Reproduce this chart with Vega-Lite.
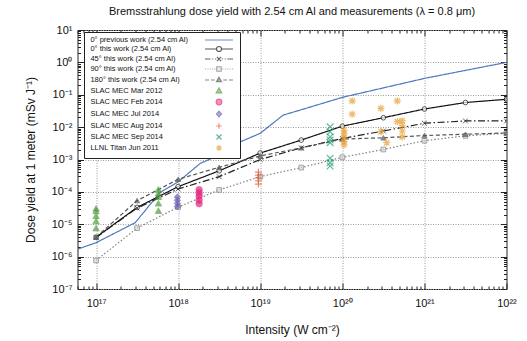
{
  "$schema": "https://vega.github.io/schema/vega-lite/v6.json",
  "width": 429,
  "height": 259,
  "autosize": "none",
  "padding": {"left": 77.5, "top": 30, "right": 20.5, "bottom": 52},
  "config": {"font": "Liberation Sans", "view": {"stroke": "#222222", "strokeWidth": 1}},
  "title": {"text": "Bremsstrahlung dose yield with 2.54 cm Al and measurements (λ = 0.8 μm)", "fontSize": 11, "fontWeight": "normal", "font": "Liberation Sans", "color": "#111111", "offset": 7, "anchor": "middle"},
  "data": {"values": [
    {"series": "0° previous work (2.54 cm Al)", "x": 5.94e16, "y": 1.70e-6},
    {"series": "0° previous work (2.54 cm Al)", "x": 1e17, "y": 2.69e-6},
    {"series": "0° previous work (2.54 cm Al)", "x": 3.0e17, "y": 1.12e-5},
    {"series": "0° previous work (2.54 cm Al)", "x": 6.0e17, "y": 9.5e-5},
    {"series": "0° previous work (2.54 cm Al)", "x": 1e18, "y": 2.04e-4},
    {"series": "0° previous work (2.54 cm Al)", "x": 1.86e18, "y": 7.6e-4},
    {"series": "0° previous work (2.54 cm Al)", "x": 2.6e18, "y": 1.1e-3},
    {"series": "0° previous work (2.54 cm Al)", "x": 4.7e18, "y": 2.82e-3},
    {"series": "0° previous work (2.54 cm Al)", "x": 1e19, "y": 6.46e-3},
    {"series": "0° previous work (2.54 cm Al)", "x": 1.6e19, "y": 1.66e-2},
    {"series": "0° previous work (2.54 cm Al)", "x": 1.9e19, "y": 2.35e-2},
    {"series": "0° previous work (2.54 cm Al)", "x": 3.1e19, "y": 3.39e-2},
    {"series": "0° previous work (2.54 cm Al)", "x": 1e20, "y": 8.3e-2},
    {"series": "0° previous work (2.54 cm Al)", "x": 1e21, "y": 0.32},
    {"series": "0° previous work (2.54 cm Al)", "x": 1e22, "y": 1.0},
    {"series": "0° this work (2.54 cm Al)", "x": 1e17, "y": 3.98e-6},
    {"series": "0° this work (2.54 cm Al)", "x": 3.16e17, "y": 3.31e-5},
    {"series": "0° this work (2.54 cm Al)", "x": 1e18, "y": 1.45e-4},
    {"series": "0° this work (2.54 cm Al)", "x": 3.16e18, "y": 4.47e-4},
    {"series": "0° this work (2.54 cm Al)", "x": 1e19, "y": 1.58e-3},
    {"series": "0° this work (2.54 cm Al)", "x": 3.16e19, "y": 3.98e-3},
    {"series": "0° this work (2.54 cm Al)", "x": 1e20, "y": 1.07e-2},
    {"series": "0° this work (2.54 cm Al)", "x": 3.16e20, "y": 1.95e-2},
    {"series": "0° this work (2.54 cm Al)", "x": 1e21, "y": 3.63e-2},
    {"series": "0° this work (2.54 cm Al)", "x": 3.16e21, "y": 5.75e-2},
    {"series": "0° this work (2.54 cm Al)", "x": 1e22, "y": 7.24e-2},
    {"series": "45° this work (2.54 cm Al)", "x": 1e17, "y": 3.9e-6},
    {"series": "45° this work (2.54 cm Al)", "x": 3.16e17, "y": 3.16e-5},
    {"series": "45° this work (2.54 cm Al)", "x": 1e18, "y": 1.23e-4},
    {"series": "45° this work (2.54 cm Al)", "x": 3.16e18, "y": 2.95e-4},
    {"series": "45° this work (2.54 cm Al)", "x": 1e19, "y": 1.0e-3},
    {"series": "45° this work (2.54 cm Al)", "x": 3.16e19, "y": 2.29e-3},
    {"series": "45° this work (2.54 cm Al)", "x": 1e20, "y": 4.47e-3},
    {"series": "45° this work (2.54 cm Al)", "x": 3.16e20, "y": 7.59e-3},
    {"series": "45° this work (2.54 cm Al)", "x": 1e21, "y": 1.32e-2},
    {"series": "45° this work (2.54 cm Al)", "x": 3.16e21, "y": 1.55e-2},
    {"series": "45° this work (2.54 cm Al)", "x": 1e22, "y": 1.55e-2},
    {"series": "90° this work (2.54 cm Al)", "x": 1e17, "y": 7.6e-7},
    {"series": "90° this work (2.54 cm Al)", "x": 3.16e17, "y": 7.6e-6},
    {"series": "90° this work (2.54 cm Al)", "x": 1e18, "y": 3.39e-5},
    {"series": "90° this work (2.54 cm Al)", "x": 3.16e18, "y": 1.15e-4},
    {"series": "90° this work (2.54 cm Al)", "x": 1e19, "y": 2.95e-4},
    {"series": "90° this work (2.54 cm Al)", "x": 3.16e19, "y": 5.62e-4},
    {"series": "90° this work (2.54 cm Al)", "x": 1e20, "y": 1.17e-3},
    {"series": "90° this work (2.54 cm Al)", "x": 3.16e20, "y": 2.04e-3},
    {"series": "90° this work (2.54 cm Al)", "x": 1e21, "y": 3.8e-3},
    {"series": "90° this work (2.54 cm Al)", "x": 3.16e21, "y": 5.37e-3},
    {"series": "90° this work (2.54 cm Al)", "x": 1e22, "y": 6.46e-3},
    {"series": "180° this work (2.54 cm Al)", "x": 1e17, "y": 4.0e-6},
    {"series": "180° this work (2.54 cm Al)", "x": 3.16e17, "y": 5.37e-5},
    {"series": "180° this work (2.54 cm Al)", "x": 1e18, "y": 2.45e-4},
    {"series": "180° this work (2.54 cm Al)", "x": 3.16e18, "y": 5.75e-4},
    {"series": "180° this work (2.54 cm Al)", "x": 1e19, "y": 1.29e-3},
    {"series": "180° this work (2.54 cm Al)", "x": 3.16e19, "y": 2.29e-3},
    {"series": "180° this work (2.54 cm Al)", "x": 1e20, "y": 4.27e-3},
    {"series": "180° this work (2.54 cm Al)", "x": 3.16e20, "y": 4.68e-3},
    {"series": "180° this work (2.54 cm Al)", "x": 1e21, "y": 5.5e-3},
    {"series": "180° this work (2.54 cm Al)", "x": 3.16e21, "y": 6.03e-3},
    {"series": "180° this work (2.54 cm Al)", "x": 1e22, "y": 6.6e-3},
    {"series": "SLAC MEC Mar 2012", "x": 1e17, "y": 3.09e-5},
    {"series": "SLAC MEC Mar 2012", "x": 1e17, "y": 2.57e-5},
    {"series": "SLAC MEC Mar 2012", "x": 1e17, "y": 1.82e-5},
    {"series": "SLAC MEC Mar 2012", "x": 1e17, "y": 1.26e-5},
    {"series": "SLAC MEC Mar 2012", "x": 1e17, "y": 7.6e-6},
    {"series": "SLAC MEC Mar 2012", "x": 5.75e17, "y": 1.20e-4},
    {"series": "SLAC MEC Mar 2012", "x": 5.75e17, "y": 9.1e-5},
    {"series": "SLAC MEC Mar 2012", "x": 5.75e17, "y": 7.1e-5},
    {"series": "SLAC MEC Mar 2012", "x": 5.75e17, "y": 4.47e-5},
    {"series": "SLAC MEC Mar 2012", "x": 5.75e17, "y": 2.63e-5},
    {"series": "SLAC MEC Feb 2014", "x": 1.8e18, "y": 1.17e-4},
    {"series": "SLAC MEC Feb 2014", "x": 1.8e18, "y": 9.3e-5},
    {"series": "SLAC MEC Feb 2014", "x": 1.8e18, "y": 7.4e-5},
    {"series": "SLAC MEC Feb 2014", "x": 1.8e18, "y": 5.6e-5},
    {"series": "SLAC MEC Feb 2014", "x": 1.8e18, "y": 4.3e-5},
    {"series": "SLAC MEC Jul 2014", "x": 9.8e17, "y": 6.9e-5},
    {"series": "SLAC MEC Jul 2014", "x": 9.8e17, "y": 5.5e-5},
    {"series": "SLAC MEC Jul 2014", "x": 9.8e17, "y": 4.4e-5},
    {"series": "SLAC MEC Jul 2014", "x": 9.8e17, "y": 3.5e-5},
    {"series": "SLAC MEC Aug 2014", "x": 9.5e18, "y": 4.07e-4},
    {"series": "SLAC MEC Aug 2014", "x": 9.5e18, "y": 3.31e-4},
    {"series": "SLAC MEC Aug 2014", "x": 9.5e18, "y": 2.69e-4},
    {"series": "SLAC MEC Aug 2014", "x": 9.5e18, "y": 2.19e-4},
    {"series": "SLAC MEC Aug 2014", "x": 9.5e18, "y": 1.74e-4},
    {"series": "SLAC MEC Sep 2014", "x": 7.1e19, "y": 1.02e-2},
    {"series": "SLAC MEC Sep 2014", "x": 7.1e19, "y": 7.2e-3},
    {"series": "SLAC MEC Sep 2014", "x": 7.1e19, "y": 5.0e-3},
    {"series": "SLAC MEC Sep 2014", "x": 7.1e19, "y": 4.0e-3},
    {"series": "SLAC MEC Sep 2014", "x": 7.1e19, "y": 3.3e-3},
    {"series": "SLAC MEC Sep 2014", "x": 7.1e19, "y": 1.10e-3},
    {"series": "SLAC MEC Sep 2014", "x": 7.1e19, "y": 7.9e-4},
    {"series": "SLAC MEC Sep 2014", "x": 7.1e19, "y": 6.3e-4},
    {"series": "LLNL Titan Jun 2011", "x": 1.32e20, "y": 0.0646},
    {"series": "LLNL Titan Jun 2011", "x": 1.32e20, "y": 0.0251},
    {"series": "LLNL Titan Jun 2011", "x": 1.05e20, "y": 0.00813},
    {"series": "LLNL Titan Jun 2011", "x": 1.05e20, "y": 0.00631},
    {"series": "LLNL Titan Jun 2011", "x": 1.05e20, "y": 0.00479},
    {"series": "LLNL Titan Jun 2011", "x": 1.05e20, "y": 0.00355},
    {"series": "LLNL Titan Jun 2011", "x": 1.05e20, "y": 0.00282},
    {"series": "LLNL Titan Jun 2011", "x": 2.95e20, "y": 0.038},
    {"series": "LLNL Titan Jun 2011", "x": 2.95e20, "y": 0.00724},
    {"series": "LLNL Titan Jun 2011", "x": 3.47e20, "y": 0.00331},
    {"series": "LLNL Titan Jun 2011", "x": 4.68e20, "y": 0.0646},
    {"series": "LLNL Titan Jun 2011", "x": 4.68e20, "y": 0.0148},
    {"series": "LLNL Titan Jun 2011", "x": 5.37e20, "y": 0.0158},
    {"series": "LLNL Titan Jun 2011", "x": 5.37e20, "y": 0.0112},
    {"series": "LLNL Titan Jun 2011", "x": 5.37e20, "y": 0.00759},
    {"series": "LLNL Titan Jun 2011", "x": 5.37e20, "y": 0.00501}
  ]},
  "resolve": {"axis": {"x": "independent", "y": "independent"}},
  "layer": [
    {
      "transform": [{"filter": {"field": "series", "oneOf": ["0° previous work (2.54 cm Al)", "0° this work (2.54 cm Al)", "45° this work (2.54 cm Al)", "90° this work (2.54 cm Al)", "180° this work (2.54 cm Al)"]}}],
      "mark": {"type": "line", "strokeWidth": 1.2, "clip": true},
      "encoding": {
        "x": {"field": "x", "type": "quantitative", "scale": {"type": "log", "domain": [5.94e16, 1e22], "nice": false},
          "axis": {"orient": "bottom", "values": [6e16, 7e16, 8e16, 9e16, 1e17, 2e17, 3e17, 4e17, 5e17, 6e17, 7e17, 8e17, 9e17, 1e18, 2e18, 3e18, 4e18, 5e18, 6e18, 7e18, 8e18, 9e18, 1e19, 2e19, 3e19, 4e19, 5e19, 6e19, 7e19, 8e19, 9e19, 1e20, 2e20, 3e20, 4e20, 5e20, 6e20, 7e20, 8e20, 9e20, 1e21, 2e21, 3e21, 4e21, 5e21, 6e21, 7e21, 8e21, 9e21, 1e22],
            "title": "Intensity (W cm⁻²)", "titleFont": "Liberation Sans", "titleFontSize": 12, "titleFontWeight": "normal", "titleColor": "#111111", "titlePadding": 13,
            "labelExpr": "abs(log(datum.value)/LN10 - round(log(datum.value)/LN10)) < 0.01 ? ['10¹⁶','10¹⁷','10¹⁸','10¹⁹','10²⁰','10²¹','10²²'][round(log(datum.value)/LN10)-16] : ''",
            "labelFont": "Liberation Sans", "labelFontSize": 11, "labelColor": "#111111", "labelPadding": 14, "labelFlush": false, "labelOverlap": false, "labelAngle": 0,
            "domain": false, "tickColor": "#222222",
            "tickSize": {"condition": {"test": "abs(log(datum.value)/LN10 - round(log(datum.value)/LN10)) < 0.01", "value": -6}, "value": -3},
            "grid": true, "gridColor": "#999999", "gridDash": [1, 1.5],
            "gridOpacity": {"condition": {"test": "abs(log(datum.value)/LN10 - round(log(datum.value)/LN10)) < 0.01", "value": 1}, "value": 0}}},
        "y": {"field": "y", "type": "quantitative", "scale": {"type": "log", "domain": [1e-7, 10], "nice": false},
          "axis": {"orient": "left", "values": [1e-7, 2e-7, 3e-7, 4e-7, 5e-7, 6e-7, 7e-7, 8e-7, 9e-7, 1e-6, 2e-6, 3e-6, 4e-6, 5e-6, 6e-6, 7e-6, 8e-6, 9e-6, 1e-5, 2e-5, 3e-5, 4e-5, 5e-5, 6e-5, 7e-5, 8e-5, 9e-5, 1e-4, 2e-4, 3e-4, 4e-4, 5e-4, 6e-4, 7e-4, 8e-4, 9e-4, 1e-3, 2e-3, 3e-3, 4e-3, 5e-3, 6e-3, 7e-3, 8e-3, 9e-3, 1e-2, 2e-2, 3e-2, 4e-2, 5e-2, 6e-2, 7e-2, 8e-2, 9e-2, 0.1, 0.2, 0.3, 0.4, 0.5, 0.6, 0.7, 0.8, 0.9, 1, 2, 3, 4, 5, 6, 7, 8, 9, 10],
            "title": "Dose yield at 1 meter (mSv J⁻¹)", "titleFont": "Liberation Sans", "titleFontSize": 12, "titleFontWeight": "normal", "titleColor": "#111111", "titlePadding": 14,
            "labelExpr": "abs(log(datum.value)/LN10 - round(log(datum.value)/LN10)) < 0.01 ? ['10⁻⁷','10⁻⁶','10⁻⁵','10⁻⁴','10⁻³','10⁻²','10⁻¹','10⁰','10¹'][round(log(datum.value)/LN10)+7] : ''",
            "labelFont": "Liberation Sans", "labelFontSize": 11, "labelColor": "#111111", "labelPadding": 11.5, "labelFlush": false, "labelOverlap": false,
            "domain": false, "tickColor": "#222222",
            "tickSize": {"condition": {"test": "abs(log(datum.value)/LN10 - round(log(datum.value)/LN10)) < 0.01", "value": -6}, "value": -3},
            "grid": true, "gridColor": "#999999", "gridDash": [1, 1.5],
            "gridOpacity": {"condition": {"test": "abs(log(datum.value)/LN10 - round(log(datum.value)/LN10)) < 0.01", "value": 1}, "value": 0}}},
        "color": {"field": "series", "type": "nominal",
          "scale": {"domain": ["0° previous work (2.54 cm Al)", "0° this work (2.54 cm Al)", "45° this work (2.54 cm Al)", "90° this work (2.54 cm Al)", "180° this work (2.54 cm Al)"],
            "range": ["#4f78c0", "#111111", "#222222", "#808080", "#555555"]},
          "legend": null},
        "strokeDash": {"field": "series", "type": "nominal",
          "scale": {"domain": ["0° previous work (2.54 cm Al)", "0° this work (2.54 cm Al)", "45° this work (2.54 cm Al)", "90° this work (2.54 cm Al)", "180° this work (2.54 cm Al)"],
            "range": [[1, 0], [1, 0], [7, 2.5, 1.5, 2.5], [1.5, 2], [4, 2.5]]},
          "legend": null}
      }
    },
    {
      "transform": [{"filter": {"field": "series", "equal": "0° this work (2.54 cm Al)"}}],
      "mark": {"type": "point", "shape": "circle", "size": 22, "strokeWidth": 1, "fill": "white", "stroke": "#111111", "filled": true, "clip": true},
      "encoding": {"x": {"field": "x", "type": "quantitative", "axis": null}, "y": {"field": "y", "type": "quantitative", "axis": null}}
    },
    {
      "transform": [{"filter": {"field": "series", "equal": "45° this work (2.54 cm Al)"}}],
      "mark": {"type": "point", "shape": "M-1,-1L1,1M-1,1L1,-1", "size": 24, "strokeWidth": 1, "fill": "transparent", "stroke": "#222222", "clip": true},
      "encoding": {"x": {"field": "x", "type": "quantitative", "axis": null}, "y": {"field": "y", "type": "quantitative", "axis": null}}
    },
    {
      "transform": [{"filter": {"field": "series", "equal": "90° this work (2.54 cm Al)"}}],
      "mark": {"type": "point", "shape": "square", "size": 22, "strokeWidth": 1, "fill": "#d8d8d8", "stroke": "#808080", "filled": true, "clip": true},
      "encoding": {"x": {"field": "x", "type": "quantitative", "axis": null}, "y": {"field": "y", "type": "quantitative", "axis": null}}
    },
    {
      "transform": [{"filter": {"field": "series", "equal": "180° this work (2.54 cm Al)"}}],
      "mark": {"type": "point", "shape": "triangle-up", "size": 26, "strokeWidth": 1, "fill": "#555555", "stroke": "#555555", "filled": true, "clip": true},
      "encoding": {"x": {"field": "x", "type": "quantitative", "axis": null}, "y": {"field": "y", "type": "quantitative", "axis": null}}
    },
    {
      "transform": [{"filter": {"field": "series", "equal": "SLAC MEC Mar 2012"}}],
      "mark": {"type": "point", "shape": "triangle-up", "size": 42, "strokeWidth": 0.8, "fill": "#4f9d3a", "stroke": "#4f9d3a", "filled": true, "clip": true},
      "encoding": {"x": {"field": "x", "type": "quantitative", "axis": null}, "y": {"field": "y", "type": "quantitative", "axis": null}}
    },
    {
      "transform": [{"filter": {"field": "series", "equal": "SLAC MEC Feb 2014"}}],
      "mark": {"type": "point", "shape": "circle", "size": 42, "strokeWidth": 0.8, "fill": "#e3247f", "stroke": "#e3247f", "filled": true, "clip": true},
      "encoding": {"x": {"field": "x", "type": "quantitative", "axis": null}, "y": {"field": "y", "type": "quantitative", "axis": null}}
    },
    {
      "transform": [{"filter": {"field": "series", "equal": "SLAC MEC Jul 2014"}}],
      "mark": {"type": "point", "shape": "diamond", "size": 42, "strokeWidth": 0.8, "fill": "#6b5fb0", "stroke": "#6b5fb0", "filled": true, "clip": true},
      "encoding": {"x": {"field": "x", "type": "quantitative", "axis": null}, "y": {"field": "y", "type": "quantitative", "axis": null}}
    },
    {
      "transform": [{"filter": {"field": "series", "equal": "SLAC MEC Aug 2014"}}],
      "mark": {"type": "point", "shape": "M-1,0H1M0,-1V1", "size": 50, "strokeWidth": 1.2, "fill": "transparent", "stroke": "#e0633a", "clip": true},
      "encoding": {"x": {"field": "x", "type": "quantitative", "axis": null}, "y": {"field": "y", "type": "quantitative", "axis": null}}
    },
    {
      "transform": [{"filter": {"field": "series", "equal": "SLAC MEC Sep 2014"}}],
      "mark": {"type": "point", "shape": "M-1,-1L1,1M-1,1L1,-1", "size": 44, "strokeWidth": 1.2, "fill": "transparent", "stroke": "#1f9a72", "clip": true},
      "encoding": {"x": {"field": "x", "type": "quantitative", "axis": null}, "y": {"field": "y", "type": "quantitative", "axis": null}}
    },
    {
      "transform": [{"filter": {"field": "series", "equal": "LLNL Titan Jun 2011"}}],
      "mark": {"type": "point", "shape": "M-1,0H1M0,-1V1M-0.75,-0.75L0.75,0.75M-0.75,0.75L0.75,-0.75", "size": 50, "strokeWidth": 1.2, "fill": "transparent", "stroke": "#e8a030", "clip": true},
      "encoding": {"x": {"field": "x", "type": "quantitative", "axis": null}, "y": {"field": "y", "type": "quantitative", "axis": null}}
    },
    {
      "transform": [{"aggregate": [{"op": "count", "as": "n"}], "groupby": ["series"]}],
      "mark": {"type": "point", "size": 36, "strokeWidth": 1.2, "filled": true, "clip": true},
      "encoding": {
        "x": {"datum": 1e10, "type": "quantitative",
          "axis": {"orient": "top", "values": [6e16, 7e16, 8e16, 9e16, 1e17, 2e17, 3e17, 4e17, 5e17, 6e17, 7e17, 8e17, 9e17, 1e18, 2e18, 3e18, 4e18, 5e18, 6e18, 7e18, 8e18, 9e18, 1e19, 2e19, 3e19, 4e19, 5e19, 6e19, 7e19, 8e19, 9e19, 1e20, 2e20, 3e20, 4e20, 5e20, 6e20, 7e20, 8e20, 9e20, 1e21, 2e21, 3e21, 4e21, 5e21, 6e21, 7e21, 8e21, 9e21, 1e22],
            "labels": false, "title": null, "domain": false, "grid": false, "tickColor": "#222222",
            "tickSize": {"condition": {"test": "abs(log(datum.value)/LN10 - round(log(datum.value)/LN10)) < 0.01", "value": -6}, "value": -3}}},
        "y": {"datum": 1e-12, "type": "quantitative",
          "axis": {"orient": "right", "values": [1e-7, 2e-7, 3e-7, 4e-7, 5e-7, 6e-7, 7e-7, 8e-7, 9e-7, 1e-6, 2e-6, 3e-6, 4e-6, 5e-6, 6e-6, 7e-6, 8e-6, 9e-6, 1e-5, 2e-5, 3e-5, 4e-5, 5e-5, 6e-5, 7e-5, 8e-5, 9e-5, 1e-4, 2e-4, 3e-4, 4e-4, 5e-4, 6e-4, 7e-4, 8e-4, 9e-4, 1e-3, 2e-3, 3e-3, 4e-3, 5e-3, 6e-3, 7e-3, 8e-3, 9e-3, 1e-2, 2e-2, 3e-2, 4e-2, 5e-2, 6e-2, 7e-2, 8e-2, 9e-2, 0.1, 0.2, 0.3, 0.4, 0.5, 0.6, 0.7, 0.8, 0.9, 1, 2, 3, 4, 5, 6, 7, 8, 9, 10],
            "labels": false, "title": null, "domain": false, "grid": false, "tickColor": "#222222",
            "tickSize": {"condition": {"test": "abs(log(datum.value)/LN10 - round(log(datum.value)/LN10)) < 0.01", "value": -6}, "value": -3}}},
        "shape": {"field": "series", "type": "nominal",
          "scale": {"domain": ["0° previous work (2.54 cm Al)", "0° this work (2.54 cm Al)", "45° this work (2.54 cm Al)", "90° this work (2.54 cm Al)", "180° this work (2.54 cm Al)", "SLAC MEC Mar 2012", "SLAC MEC Feb 2014", "SLAC MEC Jul 2014", "SLAC MEC Aug 2014", "SLAC MEC Sep 2014", "LLNL Titan Jun 2011"],
            "range": [
              "M-4.67,0H4.67",
              "M-4.67,0H-0.84M0.84,0H4.67M0.84,0A0.84,0.84 0 1,1 -0.84,0A0.84,0.84 0 1,1 0.84,0",
              "M-4.67,0H-2.8M-2.24,0H-1.87M-1.31,0H-0.93M-0.69,-0.69L0.69,0.69M-0.69,0.69L0.69,-0.69M0.93,0H1.31M1.87,0H2.24M2.8,0H4.67",
              "M-4.67,0H-4.33M-3.87,0H-3.53M-3.07,0H-2.73M-2.27,0H-1.93M-1.47,0H-1.13M-0.75,-0.75H0.75V0.75H-0.75ZM1.13,0H1.47M1.93,0H2.27M2.73,0H3.07M3.53,0H3.87M4.33,0H4.67",
              "M-4.67,0H-3.33M-2.67,0H-1.4M0,-0.93L0.84,0.56H-0.84ZM1.4,0H2.67M3.33,0H4.67",
              "M0,-1.03L0.93,0.65H-0.93Z",
              "M0.93,0A0.93,0.93 0 1,1 -0.93,0A0.93,0.93 0 1,1 0.93,0",
              "M0,-0.93L0.84,0L0,0.93L-0.84,0Z",
              "M-0.93,0H0.93M0,-0.93V0.93",
              "M-0.84,-0.84L0.84,0.84M-0.84,0.84L0.84,-0.84",
              "M-0.93,0H0.93M0,-0.93V0.93M-0.69,-0.69L0.69,0.69M-0.69,0.69L0.69,-0.69"
            ]},
          "legend": {"title": null, "orient": "none", "legendX": 6.5, "legendY": 2, "padding": 4, "strokeColor": "#222222", "fillColor": "white", "labelFont": "Liberation Sans", "labelFontSize": 7.5, "labelColor": "#111111", "labelLimit": 200, "symbolSize": 36, "symbolStrokeWidth": 1.2, "symbolOffset": 127, "labelOffset": -132.6, "rowPadding": 0, "symbolLimit": 0}},
        "fill": {"field": "series", "type": "nominal",
          "scale": {"domain": ["0° previous work (2.54 cm Al)", "0° this work (2.54 cm Al)", "45° this work (2.54 cm Al)", "90° this work (2.54 cm Al)", "180° this work (2.54 cm Al)", "SLAC MEC Mar 2012", "SLAC MEC Feb 2014", "SLAC MEC Jul 2014", "SLAC MEC Aug 2014", "SLAC MEC Sep 2014", "LLNL Titan Jun 2011"],
            "range": ["transparent", "white", "transparent", "#d8d8d8", "#555555", "#4f9d3a", "#e3247f", "#6b5fb0", "transparent", "transparent", "transparent"]},
          "legend": {"title": null, "orient": "none", "legendX": 6.5, "legendY": 2, "padding": 4, "strokeColor": "#222222", "fillColor": "white", "labelFont": "Liberation Sans", "labelFontSize": 7.5, "labelColor": "#111111", "labelLimit": 200, "symbolSize": 36, "symbolStrokeWidth": 1.2, "symbolOffset": 127, "labelOffset": -132.6, "rowPadding": 0, "symbolLimit": 0}},
        "stroke": {"field": "series", "type": "nominal",
          "scale": {"domain": ["0° previous work (2.54 cm Al)", "0° this work (2.54 cm Al)", "45° this work (2.54 cm Al)", "90° this work (2.54 cm Al)", "180° this work (2.54 cm Al)", "SLAC MEC Mar 2012", "SLAC MEC Feb 2014", "SLAC MEC Jul 2014", "SLAC MEC Aug 2014", "SLAC MEC Sep 2014", "LLNL Titan Jun 2011"],
            "range": ["#4f78c0", "#111111", "#222222", "#808080", "#555555", "#4f9d3a", "#e3247f", "#6b5fb0", "#e0633a", "#1f9a72", "#e8a030"]},
          "legend": {"title": null, "orient": "none", "legendX": 6.5, "legendY": 2, "padding": 4, "strokeColor": "#222222", "fillColor": "white", "labelFont": "Liberation Sans", "labelFontSize": 7.5, "labelColor": "#111111", "labelLimit": 200, "symbolSize": 36, "symbolStrokeWidth": 1.2, "symbolOffset": 127, "labelOffset": -132.6, "rowPadding": 0, "symbolLimit": 0}}
      }
    }
  ]
}
